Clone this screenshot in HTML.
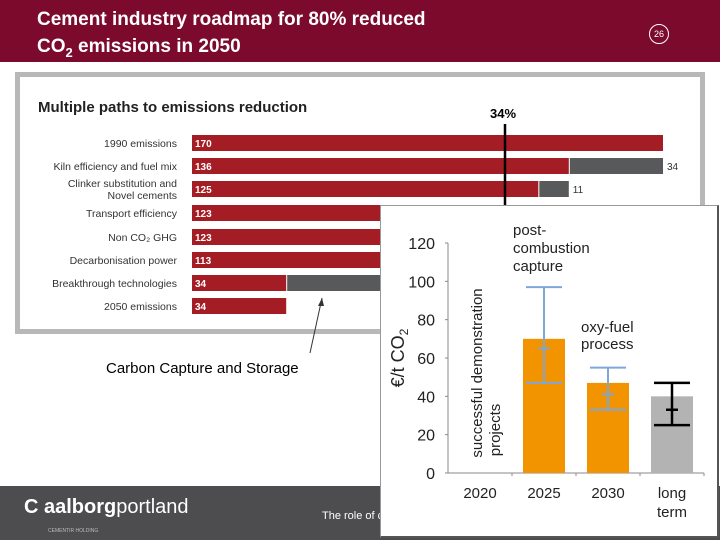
<!DOCTYPE html>
<html><head><meta charset="utf-8"><style>
body{margin:0;width:720px;height:540px;position:relative;overflow:hidden;background:#fff;font-family:"Liberation Sans",sans-serif}
.abs{position:absolute}
</style></head><body>
<div class="abs" style="left:0;top:0;width:720px;height:62px;background:#7b0a2c"></div>
<div class="abs" style="left:37px;top:6px;color:#fff;font-weight:bold;font-size:19px;line-height:27px">Cement industry roadmap for 80% reduced<br>CO<sub style="font-size:13px">2</sub> emissions in 2050</div>
<div class="abs" style="left:649px;top:24px;width:18px;height:18px;border:1px solid #fff;border-radius:50%;color:#fff;font-size:9px;text-align:center;line-height:18px">26</div>

<div class="abs" style="left:15px;top:72px;width:680px;height:252px;border:5px solid #b8b8b8;background:#fff"></div>
<svg class="abs" style="left:0;top:0" width="720" height="540" id="bars"></svg>

<div class="abs" style="left:106px;top:360px;font-size:15px;color:#000">Carbon Capture and Storage</div>

<div class="abs" style="left:0;top:486px;width:720px;height:54px;background:#4d4d4f"></div>
<div class="abs" style="left:24px;top:496px;color:#fff;font-size:20px"><span style="font-weight:bold">C </span><span style="font-weight:bold">aalborg</span>portland</div>
<div class="abs" style="left:48px;top:528px;color:#bbb;font-size:5px">CEMENTIR HOLDING</div>
<div class="abs" style="left:322px;top:510px;color:#fff;font-size:11px">The role of c</div>

<div class="abs" style="left:380px;top:205px;width:336px;height:330px;background:#fff;border:1px solid #999;border-right:2px solid #555;border-bottom:2px solid #555"></div>
<svg class="abs" style="left:0;top:0" width="720" height="540" id="cost"></svg>

<script>
const NS="http://www.w3.org/2000/svg";
function mk(p,t,a,txt){const e=document.createElementNS(NS,t);for(const k in a)e.setAttribute(k,a[k]);if(txt!==undefined)e.textContent=txt;p.appendChild(e);return e;}
// bar chart data
const rowLabels=["1990 emissions","Kiln efficiency and fuel mix","Clinker substitution and|Novel cements","Transport efficiency","Non CO₂ GHG","Decarbonisation power","Breakthrough technologies","2050 emissions"];
const redValues=[170,136,125,123,123,113,34,34];
const grayValues=[0,34,11,2,0,10,79,0];
const grayLabels=["","34","11","","","","",""];
const b=document.getElementById('bars');
const x0=192,sx=471/170,rowY=[143,166,189,213,237,260,283,306];
mk(b,'text',{x:38,y:112,'font-size':15,'font-weight':'bold',fill:'#222'},'Multiple paths to emissions reduction');
redValues.forEach((v,i)=>{
  const y=rowY[i];
  const lines=rowLabels[i].split('|');
  lines.forEach((l,j)=>{const t=mk(b,'text',{x:177,y:y+4+(j-(lines.length-1)/2)*12,'font-size':10.5,'text-anchor':'end',fill:'#333'},l);
  });
  const r=mk(b,'rect',{x:x0,y:y-8,width:v*sx,height:16,fill:'#a51d24'});
  
  const vt=mk(b,'text',{x:x0+3,y:y+4,'font-size':10,'font-weight':'bold',fill:'#fff'},v);
  
  if(grayValues[i]>0){
    const g=mk(b,'rect',{x:x0+v*sx+1,y:y-8,width:grayValues[i]*sx-1,height:16,fill:'#58595b'});
    
    if(grayLabels[i]){const gt=mk(b,'text',{x:x0+(v+grayValues[i])*sx+4,y:y+4,'font-size':10,fill:'#333'},grayLabels[i]);
    }
  }
});
mk(b,'line',{x1:505,y1:124,x2:505,y2:205,stroke:'#000','stroke-width':2.5});
mk(b,'text',{x:503,y:118,'font-size':13,'font-weight':'bold','text-anchor':'middle'},'34%');
mk(b,'line',{x1:310,y1:353,x2:322,y2:298,stroke:'#333','stroke-width':1});
mk(b,'path',{d:'M322,298 l-4,8 l6,0z',fill:'#333'});

// cost chart data
const categories=["2020","2025","2030","long|term"];
const costValues=[null,70,47,40];
const errLow=[null,47,33,25];
const errMid=[null,65,41,33];
const errHigh=[null,97,55,47];
const yTicks=[0,20,40,60,80,100,120];
const c=document.getElementById('cost');
const ax=448,y0=473,sy=230/120,cw=64;
const Y=v=>y0-v*sy, CX=i=>ax+cw*(i+0.5);
mk(c,'line',{x1:ax,y1:Y(120),x2:ax,y2:y0,stroke:'#888'});
mk(c,'line',{x1:ax,y1:y0,x2:704,y2:y0,stroke:'#888'});
yTicks.forEach(t=>{mk(c,'line',{x1:ax-3,y1:Y(t),x2:ax,y2:Y(t),stroke:'#888'});
  const e=mk(c,'text',{x:435,y:Y(t)+6,'font-size':16,'text-anchor':'end',fill:'#222'},t);
  });
categories.forEach((cat,i)=>{
  mk(c,'line',{x1:ax+cw*(i+1),y1:y0,x2:ax+cw*(i+1),y2:y0+3,stroke:'#888'});
  cat.split('|').forEach((l,j)=>{const e=mk(c,'text',{x:CX(i),y:498+j*19,'font-size':15,'text-anchor':'middle',fill:'#222'},l);
    });
  if(costValues[i]!=null){
    const r=mk(c,'rect',{x:CX(i)-21,y:Y(costValues[i]),width:42,height:costValues[i]*sy,fill:i==3?'#b3b3b3':'#f29400'});
    
    const col=i==3?'#000':'#7fa6d6',sw=i==3?2.5:2;
    mk(c,'line',{x1:CX(i),y1:Y(errHigh[i]),x2:CX(i),y2:Y(errLow[i]),stroke:col,'stroke-width':sw});
    mk(c,'line',{x1:CX(i)-18,y1:Y(errHigh[i]),x2:CX(i)+18,y2:Y(errHigh[i]),stroke:col,'stroke-width':sw});
    mk(c,'line',{x1:CX(i)-18,y1:Y(errLow[i]),x2:CX(i)+18,y2:Y(errLow[i]),stroke:col,'stroke-width':sw});
    mk(c,'line',{x1:CX(i)-6,y1:Y(errMid[i]),x2:CX(i)+6,y2:Y(errMid[i]),stroke:col,'stroke-width':sw});
  }
});
const yt=mk(c,'text',{transform:'translate(404,358) rotate(-90)','font-size':18,'text-anchor':'middle',fill:'#222'});
yt.innerHTML='€/t CO<tspan font-size="12" dy="4">2</tspan>';

mk(c,'text',{transform:'translate(482,373) rotate(-90)','font-size':15,'text-anchor':'middle',fill:'#222'},'successful demonstration');
mk(c,'text',{transform:'translate(500,430) rotate(-90)','font-size':15,'text-anchor':'middle',fill:'#222'},'projects');
['post-','combustion','capture'].forEach((l,j)=>mk(c,'text',{x:513,y:235+j*18,'font-size':15,fill:'#222'},l));
['oxy-fuel','process'].forEach((l,j)=>mk(c,'text',{x:581,y:332+j*17,'font-size':15,fill:'#222'},l));
</script>
</body></html>
